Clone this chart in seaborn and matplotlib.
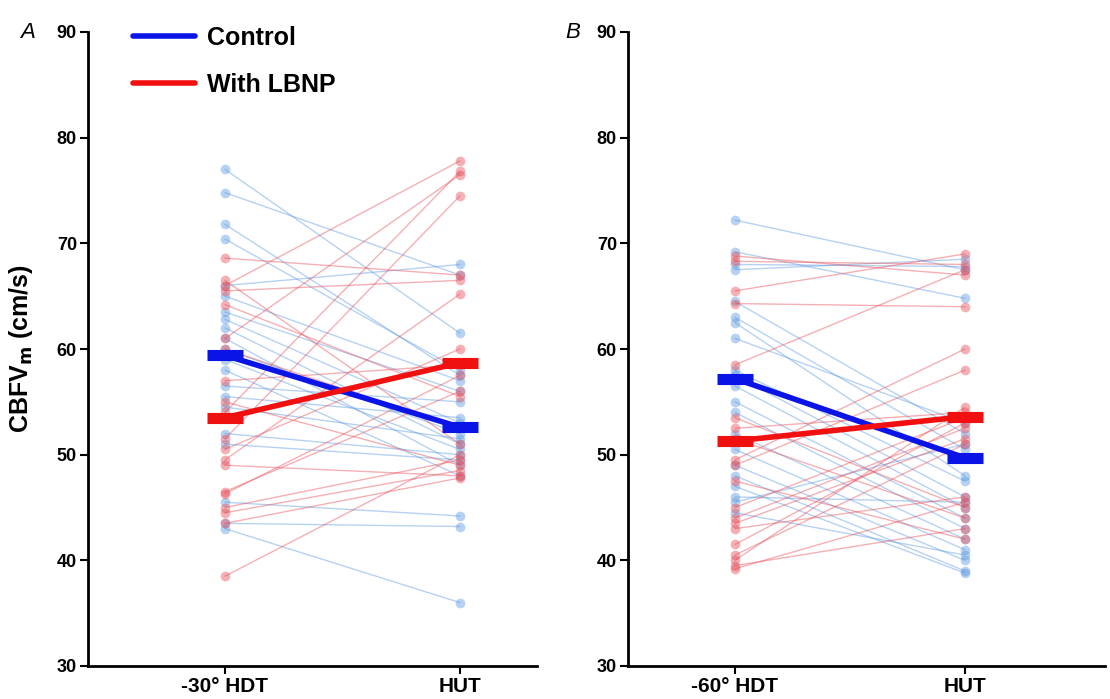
import numpy as np
import pandas as pd
import matplotlib
matplotlib.use("Agg")
import matplotlib.pyplot as plt
from matplotlib.lines import Line2D
import seaborn as sns

# ---------------- data ----------------
conds_A = ["-30° HDT", "HUT"]
conds_B = ["-60° HDT", "HUT"]

ctrl_A_pre = [77.0, 74.8, 71.8, 70.4, 66.0, 65.0, 63.5, 62.8, 62.0, 61.0, 60.0,
              59.0, 58.0, 56.5, 55.5, 54.5, 52.0, 51.0, 45.5, 43.5, 43.0]
ctrl_A_post = [61.5, 67.0, 57.5, 58.0, 68.0, 57.0, 56.0, 53.0, 51.0, 49.0, 52.0,
               50.5, 48.0, 55.0, 53.5, 51.5, 50.0, 49.5, 44.2, 43.2, 36.0]
lbnp_A_pre = [68.6, 66.5, 66.0, 65.5, 64.2, 61.0, 60.0, 57.0, 55.0, 54.0,
              51.5, 50.5, 49.5, 49.0, 46.5, 46.3, 45.0, 44.5, 43.5, 38.5]
lbnp_A_post = [67.0, 51.0, 77.8, 66.5, 55.5, 76.5, 52.5, 58.5, 49.0, 76.8,
               74.5, 60.0, 65.2, 48.0, 56.0, 57.5, 49.5, 48.5, 47.8, 50.0]

ctrl_B_pre = [72.2, 69.2, 68.0, 67.5, 64.5, 63.0, 62.5, 61.0, 58.0, 57.5, 56.5,
              55.0, 54.0, 52.0, 50.5, 49.0, 48.0, 47.0, 46.0, 45.5, 44.5]
ctrl_B_post = [67.5, 64.8, 67.8, 68.5, 52.0, 50.5, 48.0, 53.0, 47.5, 46.0, 45.0,
               44.0, 43.0, 42.0, 41.0, 40.0, 39.0, 38.8, 45.5, 51.0, 40.5]
lbnp_B_pre = [68.8, 68.3, 65.5, 64.3, 58.5, 53.5, 52.5, 51.5, 49.5, 49.0,
              47.5, 45.0, 44.0, 43.5, 43.0, 41.5, 40.5, 40.0, 39.5, 39.2]
lbnp_B_post = [67.0, 68.0, 69.0, 64.0, 67.5, 45.0, 54.0, 44.0, 60.0, 58.0,
               42.0, 53.5, 52.5, 51.5, 46.0, 53.0, 51.0, 54.5, 43.0, 45.5]

# group means
mean_ctrl_A = [59.4, 52.6]
mean_lbnp_A = [53.5, 58.7]
mean_ctrl_B = [57.2, 49.7]
mean_lbnp_B = [51.3, 53.6]

yticks = [30, 40, 50, 60, 70, 80, 90]

# ---------------- style ----------------
sns.set_theme(style="white")
plt.rcParams["font.family"] = ["Liberation Sans", "DejaVu Sans"]
plt.rcParams["font.weight"] = "bold"
for k in ["text.color", "axes.labelcolor", "xtick.color", "ytick.color"]:
    plt.rcParams[k] = "black"

BLUE_I = "#5e9be0"
RED_I = "#e8505a"
BLUE_M = "#0a14e6"
RED_M = "#f01010"


def long_df(pre, post):
    n = len(pre)
    return pd.DataFrame({
        "subject": list(range(n)) * 2,
        "x": [0] * n + [1] * n,
        "y": list(pre) + list(post),
    })


def panel(ax, cpre, cpost, lpre, lpost, cmean, lmean, labels, xlim):
    for pre, post, col in [(cpre, cpost, BLUE_I), (lpre, lpost, RED_I)]:
        d = long_df(pre, post)
        sns.lineplot(data=d, x="x", y="y", units="subject", estimator=None,
                     color=col, alpha=0.45, lw=1.0, marker="o", markersize=7,
                     markeredgewidth=0, ax=ax, legend=False)
    for m, col in [(cmean, BLUE_M), (lmean, RED_M)]:
        dm = pd.DataFrame({"x": [0, 1], "y": m})
        sns.lineplot(data=dm, x="x", y="y", color=col, lw=4, marker="_",
                     markersize=26, markeredgewidth=8, markeredgecolor=col,
                     ax=ax, legend=False)
    ax.set_xlim(*xlim)
    ax.set_ylim(30, 90)
    ax.set_xticks([0, 1])
    ax.set_xticklabels(labels, fontsize=15, fontweight="bold")
    ax.set_yticks(yticks)
    ax.set_yticklabels([str(t) for t in yticks], fontsize=13, fontweight="bold")
    ax.set_xlabel("")
    ax.set_ylabel("")
    for s in ["top", "right"]:
        ax.spines[s].set_visible(False)
    for s in ["left", "bottom"]:
        ax.spines[s].set_linewidth(2)
        ax.spines[s].set_color("black")
    ax.tick_params(axis="both", direction="out", length=6, width=1.5,
                   color="black", bottom=True, left=True, pad=2)


fig = plt.figure(figsize=(11.1, 6.99), dpi=100)
axA = fig.add_axes([88 / 1110, 1 - 666 / 699, 449 / 1110, 634 / 699])
axB = fig.add_axes([628 / 1110, 1 - 666 / 699, 477 / 1110, 634 / 699])

panel(axA, ctrl_A_pre, ctrl_A_post, lbnp_A_pre, lbnp_A_post,
      mean_ctrl_A, mean_lbnp_A, conds_A, (-0.583, 1.328))
panel(axB, ctrl_B_pre, ctrl_B_post, lbnp_B_pre, lbnp_B_post,
      mean_ctrl_B, mean_lbnp_B, conds_B, (-0.465, 1.609))

axA.set_ylabel(r"CBFV$_\mathbf{m}$ (cm/s)", fontsize=18, fontweight="bold")
axA.yaxis.set_label_coords(-53 / 449, 0.5)

fig.text(20 / 1110, 1 - 32 / 699, "A", fontsize=16, style="italic",
         fontweight="normal", va="center")
fig.text(565 / 1110, 1 - 32 / 699, "B", fontsize=16, style="italic",
         fontweight="normal", va="center")

handles = [Line2D([], [], color=BLUE_M, lw=4), Line2D([], [], color=RED_M, lw=4)]
axA.legend(handles, ["Control", "With LBNP"], loc="upper left",
           bbox_to_anchor=(0.051, 1.045), frameon=False, handlelength=2.45,
           handletextpad=0.48, labelspacing=0.92,
           prop={"size": 18, "weight": "bold"})

fig.savefig("out.png", dpi=100)
